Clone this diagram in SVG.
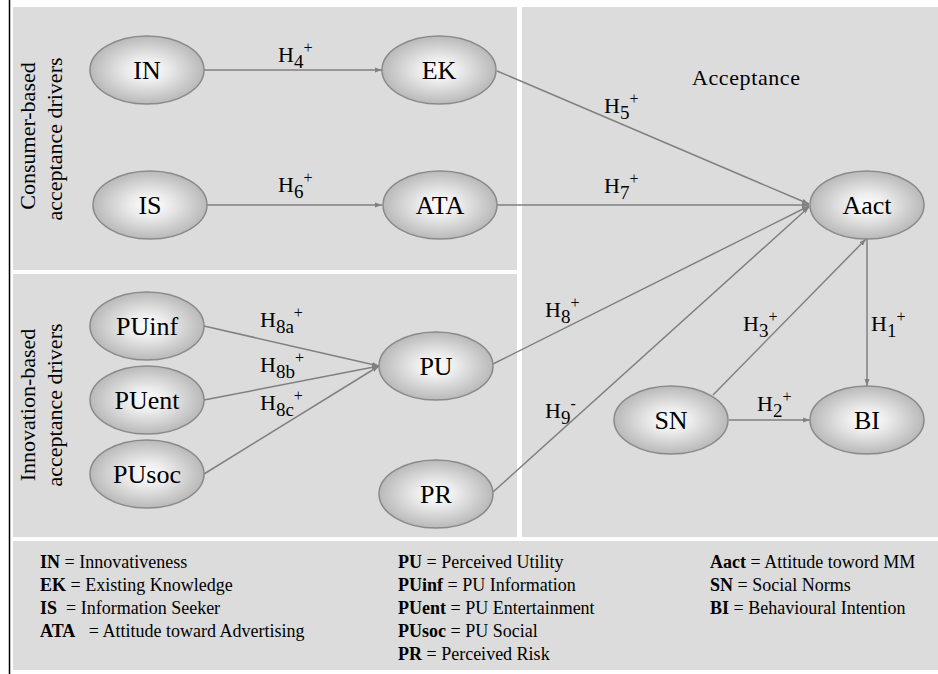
<svg xmlns="http://www.w3.org/2000/svg" width="938" height="674" viewBox="0 0 938 674" font-family="'Liberation Serif', 'DejaVu Serif', 'Times New Roman', serif">
<defs>
<radialGradient id="eg" cx="50%" cy="50%" r="50%">
<stop offset="0" stop-color="#ffffff"/>
<stop offset="0.35" stop-color="#ececec"/>
<stop offset="1" stop-color="#b9b9b9"/>
</radialGradient>
<marker id="ah" markerWidth="8" markerHeight="6" refX="7" refY="3" orient="auto" markerUnits="userSpaceOnUse">
<path d="M0,0.5 L7,3 L0,5.5 z" fill="#808080"/>
</marker>
<style>
.panel{fill:#dcdcdc}
.node ellipse{fill:url(#eg);stroke:#8a8a8a;stroke-width:1.5}
.node text{font-size:26px;fill:#000;text-anchor:middle}
.conn line{stroke:#808080;stroke-width:1.5;fill:none;marker-end:url(#ah)}
.lab{font-size:22px;fill:#000}
.sub{font-size:19px}
.sup{font-size:16px}
.side{font-size:22px;fill:#000;text-anchor:middle}
.leg{font-size:18px;fill:#000}
.leg .b{font-weight:bold}
</style>
</defs>
<rect x="0" y="0" width="938" height="674" fill="#ffffff"/>
<g id="panels">
<rect class="panel" x="13" y="7" width="504" height="263"/>
<rect class="panel" x="13" y="274" width="504" height="263"/>
<rect class="panel" x="522" y="7" width="416" height="530"/>
<rect class="panel" x="13" y="541" width="925" height="129"/>
<line x1="9.5" y1="0" x2="9.5" y2="674" stroke="#000" stroke-width="1.5"/>
</g>
<g id="section-labels">
<text class="side" transform="translate(35,136) rotate(-90)">Consumer-based</text>
<text class="side" transform="translate(62,139) rotate(-90)">acceptance drivers</text>
<text class="side" transform="translate(35,405) rotate(-90)">Innovation-based</text>
<text class="side" transform="translate(62,405) rotate(-90)">acceptance drivers</text>
<text class="lab" x="692" y="85" font-size="21" letter-spacing="0.6">Acceptance</text>
</g>
<g id="connectors" class="conn">
<line x1="204" y1="70" x2="382" y2="70"/>
<line x1="207" y1="205" x2="382" y2="205"/>
<line x1="497" y1="71" x2="809" y2="204"/>
<line x1="497" y1="205" x2="809" y2="205"/>
<line x1="493" y1="364" x2="809" y2="206"/>
<line x1="493" y1="492" x2="809" y2="207"/>
<line x1="713" y1="395" x2="866" y2="239"/>
<line x1="867" y1="239" x2="867" y2="386"/>
<line x1="729" y1="420" x2="810" y2="420"/>
<line x1="204" y1="326" x2="379" y2="366"/>
<line x1="204" y1="400" x2="379" y2="366"/>
<line x1="204" y1="474" x2="379" y2="366"/>
</g>
<g id="connector-labels">
<text class="lab" x="278" y="62">H<tspan class="sub" dy="6">4</tspan><tspan class="sup" dy="-15">+</tspan></text>
<text class="lab" x="278" y="192">H<tspan class="sub" dy="6">6</tspan><tspan class="sup" dy="-15">+</tspan></text>
<text class="lab" x="604" y="113">H<tspan class="sub" dy="6">5</tspan><tspan class="sup" dy="-15">+</tspan></text>
<text class="lab" x="604" y="193">H<tspan class="sub" dy="6">7</tspan><tspan class="sup" dy="-15">+</tspan></text>
<text class="lab" x="545" y="317">H<tspan class="sub" dy="6">8</tspan><tspan class="sup" dy="-15">+</tspan></text>
<text class="lab" x="545" y="418">H<tspan class="sub" dy="6">9</tspan><tspan class="sup" dy="-15">-</tspan></text>
<text class="lab" x="743" y="331">H<tspan class="sub" dy="6">3</tspan><tspan class="sup" dy="-15">+</tspan></text>
<text class="lab" x="871" y="331">H<tspan class="sub" dy="6">1</tspan><tspan class="sup" dy="-15">+</tspan></text>
<text class="lab" x="757" y="411">H<tspan class="sub" dy="6">2</tspan><tspan class="sup" dy="-15">+</tspan></text>
<text class="lab" x="260" y="327">H<tspan class="sub" dy="6">8a</tspan><tspan class="sup" dy="-15">+</tspan></text>
<text class="lab" x="260" y="372">H<tspan class="sub" dy="6">8b</tspan><tspan class="sup" dy="-15">+</tspan></text>
<text class="lab" x="260" y="410">H<tspan class="sub" dy="6">8c</tspan><tspan class="sup" dy="-15">+</tspan></text>
</g>
<g id="IN" class="node"><ellipse cx="147" cy="70" rx="57" ry="34"/><text x="147" y="79">IN</text></g>
<g id="EK" class="node"><ellipse cx="439" cy="70" rx="57" ry="34"/><text x="439" y="79">EK</text></g>
<g id="IS" class="node"><ellipse cx="150" cy="205" rx="57" ry="34"/><text x="150" y="214">IS</text></g>
<g id="ATA" class="node"><ellipse cx="440" cy="205" rx="57" ry="34"/><text x="440" y="214">ATA</text></g>
<g id="Aact" class="node"><ellipse cx="867" cy="205" rx="57" ry="34"/><text x="867" y="214">Aact</text></g>
<g id="PUinf" class="node"><ellipse cx="147" cy="326" rx="57" ry="34"/><text x="147" y="335">PUinf</text></g>
<g id="PUent" class="node"><ellipse cx="147" cy="400" rx="57" ry="34"/><text x="147" y="409">PUent</text></g>
<g id="PUsoc" class="node"><ellipse cx="147" cy="474" rx="57" ry="34"/><text x="147" y="483">PUsoc</text></g>
<g id="PU" class="node"><ellipse cx="436" cy="366" rx="57" ry="34"/><text x="436" y="375">PU</text></g>
<g id="PR" class="node"><ellipse cx="436" cy="494" rx="57" ry="34"/><text x="436" y="503">PR</text></g>
<g id="SN" class="node"><ellipse cx="671" cy="420" rx="57" ry="34"/><text x="671" y="429">SN</text></g>
<g id="BI" class="node"><ellipse cx="867" cy="420" rx="57" ry="34"/><text x="867" y="429">BI</text></g>
<g id="legend" class="leg">
<text x="40" y="568"><tspan class="b">IN</tspan> = Innovativeness</text>
<text x="40" y="591"><tspan class="b">EK</tspan> = Existing Knowledge</text>
<text x="40" y="614" xml:space="preserve"><tspan class="b">IS</tspan>  = Information Seeker</text>
<text x="40" y="637" xml:space="preserve"><tspan class="b">ATA</tspan>   = Attitude toward Advertising</text>
<text x="398" y="568"><tspan class="b">PU</tspan> = Perceived Utility</text>
<text x="398" y="591"><tspan class="b">PUinf</tspan> = PU Information</text>
<text x="398" y="614"><tspan class="b">PUent</tspan> = PU Entertainment</text>
<text x="398" y="637"><tspan class="b">PUsoc</tspan> = PU Social</text>
<text x="398" y="660"><tspan class="b">PR</tspan> = Perceived Risk</text>
<text x="710" y="568"><tspan class="b">Aact</tspan> = Attitude toword MM</text>
<text x="710" y="591"><tspan class="b">SN</tspan> = Social Norms</text>
<text x="710" y="614"><tspan class="b">BI</tspan> = Behavioural Intention</text>
</g>
</svg>
